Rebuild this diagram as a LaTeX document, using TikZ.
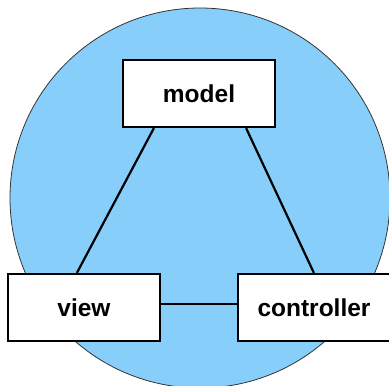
\documentclass[tikz,border=0pt]{standalone}
\usepackage{fontspec}
\setmainfont{Liberation Sans}
\usepackage{xcolor}
\usepackage{tikz}
\usetikzlibrary{positioning,calc}

\definecolor{skyfill}{RGB}{135,206,250}

\begin{document}
\begin{tikzpicture}[
    x=1pt, y=-1pt,
    part/.style={draw=black, rectangle, line width=2.2pt, fill=white, minimum width=152pt, minimum height=67pt, inner sep=0pt, font=\fontsize{24.5}{28}\selectfont\bfseries},
    link/.style={line width=2.2pt, draw=black}
]
    \clip (0,0) rectangle (389,386);
    \useasboundingbox (0,0) rectangle (389,386);

    % Background circle
    \node[circle, draw=black!80, line width=0.8pt, fill=skyfill, minimum size=380pt, inner sep=0pt] (world) at (200,198) {};

    % The three parts
    \node[part] (model) at (199,93.5) {model};
    \node[part] (view) at (84,307.5) {view};
    \node[part] (controller) at (314,307.5) {controller};

    % Links between the parts
    \draw[link] ([xshift=32pt]model.south west) -- ([xshift=70pt]view.north west);
    \draw[link] ([xshift=-30pt]model.south east) -- ([xshift=77pt]controller.north west);
    \draw[link] ([yshift=3.5pt]view.east) -- ([yshift=3.5pt]controller.west);

\end{tikzpicture}
\end{document}
